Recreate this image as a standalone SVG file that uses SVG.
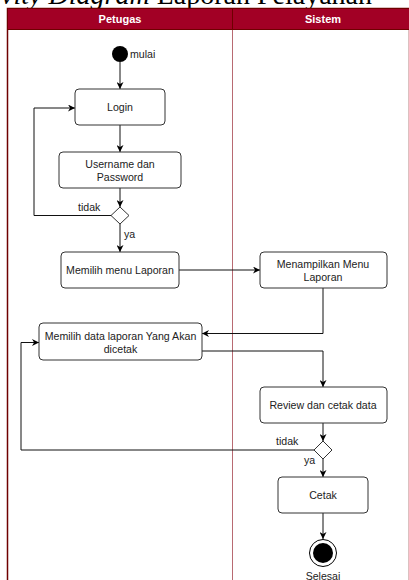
<svg xmlns="http://www.w3.org/2000/svg" width="409" height="580" viewBox="0 0 409 580">
  <defs>
    <marker id="arrow" viewBox="0 0 10 10" refX="10" refY="5" markerWidth="7" markerHeight="7" markerUnits="userSpaceOnUse" orient="auto">
      <path d="M0,0 L10,5 L0,10 L3,5 Z" fill="#000"/>
    </marker>
    <style>
      .title { font-family: "Liberation Serif", serif; font-size: 28px; fill: #000; }
      .lane-head { font-family: "Liberation Sans", Arial, sans-serif; font-size: 11px; font-weight: bold; fill: #fff; text-anchor: middle; }
      .node rect { fill: #fff; stroke: #333; stroke-width: 1; }
      .node text, .lbl { font-family: "Liberation Sans", Arial, sans-serif; font-size: 10.6px; fill: #222; }
      .node text { text-anchor: middle; }
      .edge { fill: none; stroke: #111; stroke-width: 1; }
      .edge.arr { marker-end: url(#arrow); }
    </style>
  </defs>

  <rect width="409" height="580" fill="#fff"/>

  <!-- heading above the pool -->
  <text class="title" x="372" y="4" text-anchor="end"><tspan font-style="italic">Activity Diagram</tspan> Laporan Pelayanan</text>

  <!-- swimlane pool -->
  <g id="pool">
    <rect x="7.5" y="8.5" width="402" height="580" fill="#fff" stroke="#6f0000" stroke-width="1.5"/>
    <rect x="7.5" y="8.5" width="402" height="21" fill="#a20025" stroke="#6f0000" stroke-width="1"/>
    <line x1="232.5" y1="8.5" x2="232.5" y2="580" stroke="#6f0000" stroke-width="1"/>
    <line x1="232.5" y1="30" x2="232.5" y2="580" stroke="#b86a72" stroke-width="1"/>
    <text class="lane-head" x="120" y="23">Petugas</text>
    <text class="lane-head" x="323" y="23">Sistem</text>
  </g>

  <!-- connectors -->
  <g id="connectors">
    <path class="edge arr" d="M120,62 V89"/>
    <path class="edge arr" d="M120,125 V152"/>
    <path class="edge arr" d="M120,188 V207"/>
    <path class="edge arr" d="M111,215.5 H34 V108 H75"/>
    <path class="edge arr" d="M120,224 V252"/>
    <path class="edge arr" d="M179,270 H260"/>
    <path class="edge arr" d="M323,288 V333.5 H202"/>
    <path class="edge arr" d="M202,351 H323 V387"/>
    <path class="edge arr" d="M323,423 V441"/>
    <path class="edge arr" d="M314,450 H21 V342.5 H39"/>
    <path class="edge arr" d="M323,459 V477"/>
    <path class="edge arr" d="M323,513 V539"/>
    <text class="lbl" x="78" y="211">tidak</text>
    <text class="lbl" x="124" y="238">ya</text>
    <text class="lbl" x="276" y="445">tidak</text>
    <text class="lbl" x="304" y="464">ya</text>
  </g>

  <!-- nodes -->
  <g id="start" class="node">
    <circle cx="120" cy="54" r="8" fill="#000"/>
    <text x="130" y="58" style="text-anchor:start">mulai</text>
  </g>

  <g id="login" class="node">
    <rect x="75" y="89" width="90" height="36" rx="4"/>
    <text x="120" y="111">Login</text>
  </g>

  <g id="username-password" class="node">
    <rect x="59" y="152" width="122" height="36" rx="4"/>
    <text x="120" y="168">Username dan</text>
    <text x="120" y="181">Password</text>
  </g>

  <g id="login-check" class="node">
    <path d="M120,207 L129,215.5 L120,224 L111,215.5 Z" fill="#fff" stroke="#333"/>
  </g>

  <g id="pilih-menu" class="node">
    <rect x="61" y="252" width="118" height="36" rx="4"/>
    <text x="120" y="274">Memilih menu Laporan</text>
  </g>

  <g id="tampil-menu" class="node">
    <rect x="260" y="252" width="127" height="36" rx="4"/>
    <text x="323" y="268">Menampilkan Menu</text>
    <text x="323" y="281">Laporan</text>
  </g>

  <g id="pilih-data" class="node">
    <rect x="39" y="323" width="163" height="37" rx="4"/>
    <text x="120.5" y="340">Memilih data laporan Yang Akan</text>
    <text x="120.5" y="353">dicetak</text>
  </g>

  <g id="review" class="node">
    <rect x="260" y="387" width="127" height="36" rx="4"/>
    <text x="323" y="409">Review dan cetak data</text>
  </g>

  <g id="review-check" class="node">
    <path d="M323,441 L332,450 L323,459 L314,450 Z" fill="#fff" stroke="#333"/>
  </g>

  <g id="cetak" class="node">
    <rect x="278" y="477" width="90" height="36" rx="4"/>
    <text x="323" y="499">Cetak</text>
  </g>

  <g id="end" class="node">
    <circle cx="323" cy="553" r="13.5" fill="#fff" stroke="#000" stroke-width="1"/>
    <circle cx="323" cy="553" r="10" fill="#000"/>
    <text x="323" y="580">Selesai</text>
  </g>
</svg>
